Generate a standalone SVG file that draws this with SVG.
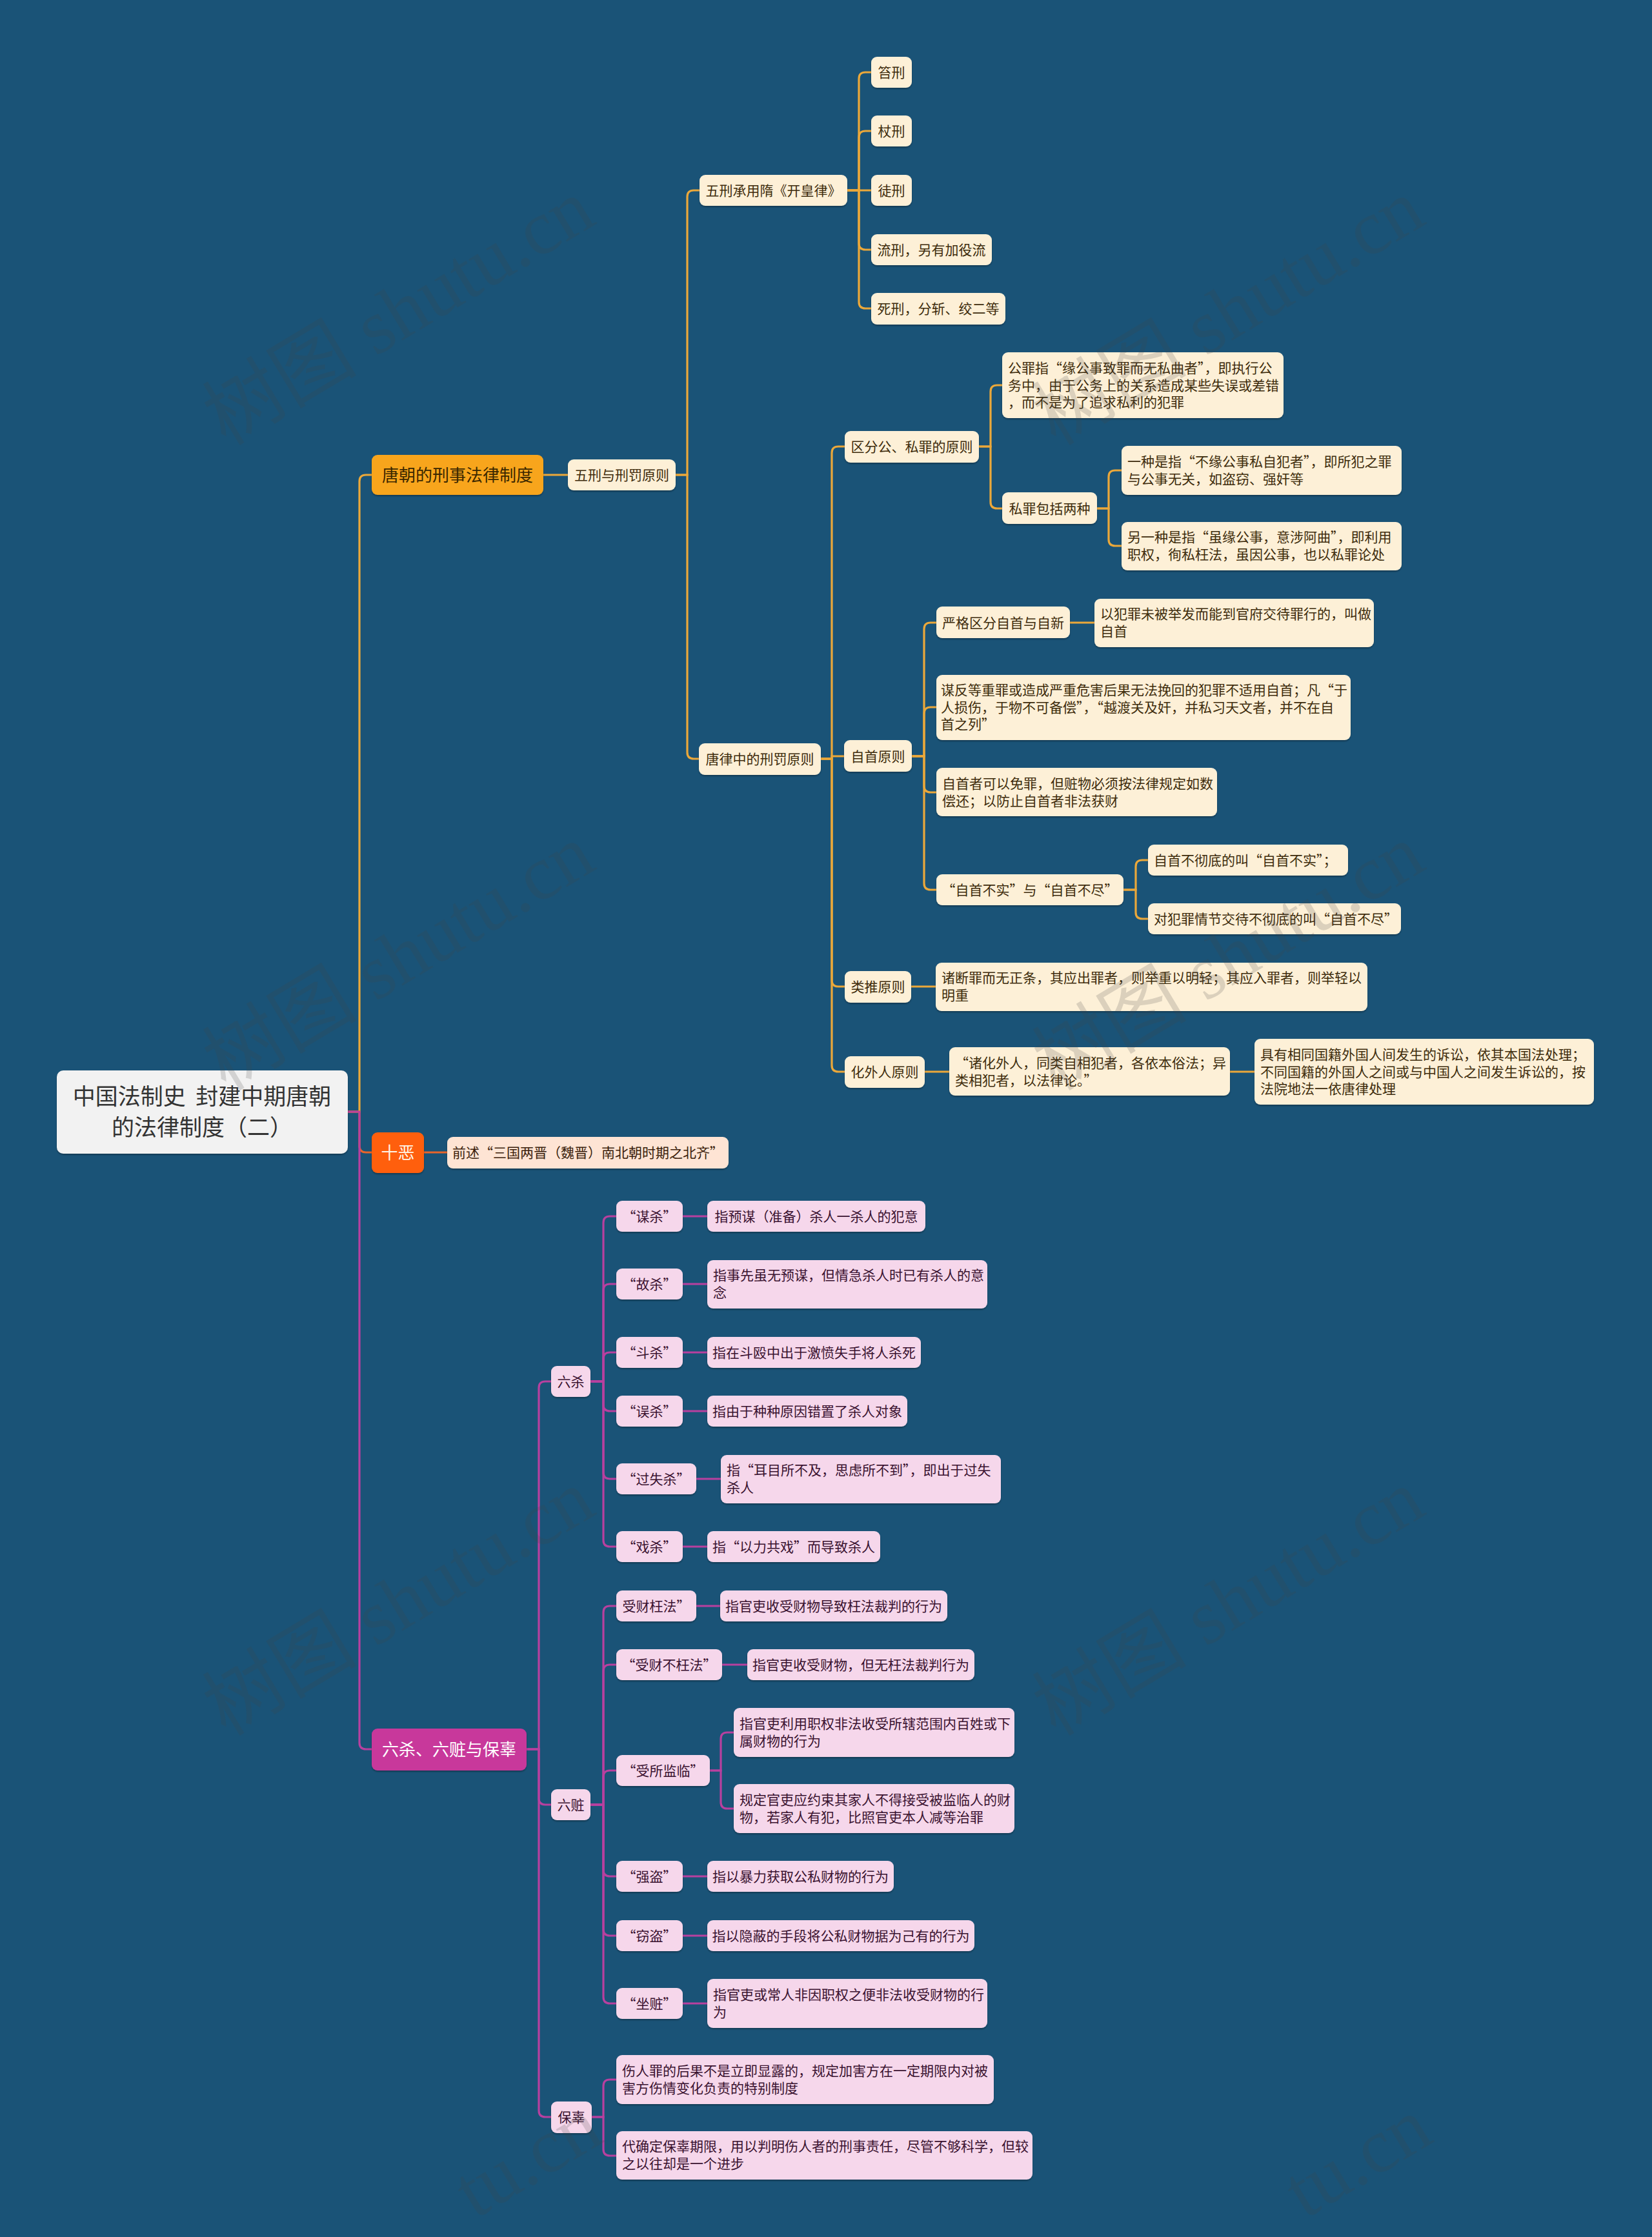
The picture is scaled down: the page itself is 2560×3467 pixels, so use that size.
<svg xmlns="http://www.w3.org/2000/svg" width="2560" height="3467" viewBox="0 0 2560 3467">
<defs>
<filter id="sh" x="-5%" y="-10%" width="110%" height="130%">
<feDropShadow dx="0" dy="2" stdDeviation="1.2" flood-color="#000" flood-opacity="0.3"/>
</filter>
<style>
text{font-family:"Noto Sans CJK SC","Noto Sans",sans-serif;}
.r{fill:#F2F2F2;filter:url(#sh);}
.rt{font-size:35px;fill:#333;text-anchor:middle;white-space:pre;}
.o1{fill:#F8A51F;filter:url(#sh);}
.o1t{font-size:26px;fill:#3A2700;text-anchor:middle;}
.oc{fill:#FDF0D7;filter:url(#sh);}
.oct{font-size:21px;fill:#3E2C0C;}
.red1{fill:#FF5E0A;filter:url(#sh);}
.red1t{font-size:26px;fill:#FFF4E6;text-anchor:middle;}
.redc{fill:#FEE4D4;filter:url(#sh);}
.redct{font-size:21px;fill:#3B1E0B;}
.m1{fill:#C8379B;filter:url(#sh);}
.m1t{font-size:26px;fill:#FFFFFF;text-anchor:middle;}
.mc{fill:#F6D7EB;filter:url(#sh);}
.mct{font-size:21px;fill:#3A1230;}
.c{text-anchor:middle;}
.lo{fill:none;stroke:#EBA83A;stroke-width:3.2;}
.lr{fill:none;stroke:#E8652A;stroke-width:3.2;}
.lm{fill:none;stroke:#B8409F;stroke-width:3.2;}
.wm{font-family:"Liberation Serif","Noto Sans CJK SC",serif;font-size:120px;fill:#444;opacity:0.18;}
</style>
</defs>
<rect x="0" y="0" width="2560" height="3467" fill="#1A5377"/>

<g id="connectors">
<path class="lo" d="M539 1723 H557 V746 Q557 736 567 736 H576"/>
<path class="lr" d="M539 1723 H557 V1776 Q557 1786 567 1786 H576"/>
<path class="lm" d="M539 1723 H557 V2701 Q557 2711 567 2711 H576"/>
<path class="lo" d="M842 736 H880"/>
<path class="lo" d="M1047 736 H1065 V305 Q1065 295 1075 295 H1084"/>
<path class="lo" d="M1047 736 H1065 V1166 Q1065 1176 1075 1176 H1083"/>
<path class="lo" d="M1313 295 H1331 V122 Q1331 112 1341 112 H1350"/>
<path class="lo" d="M1313 295 H1331 V213 Q1331 203 1341 203 H1350"/>
<path class="lo" d="M1313 295 H1350"/>
<path class="lo" d="M1313 295 H1331 V377 Q1331 387 1341 387 H1350"/>
<path class="lo" d="M1313 295 H1331 V468 Q1331 478 1341 478 H1350"/>
<path class="lo" d="M1272 1176 H1289 V702 Q1289 692 1299 692 H1309"/>
<path class="lo" d="M1272 1176 H1289 V1172 H1308"/>
<path class="lo" d="M1272 1176 H1289 V1519 Q1289 1529 1299 1529 H1309"/>
<path class="lo" d="M1272 1176 H1289 V1651 Q1289 1661 1299 1661 H1309"/>
<path class="lo" d="M1517 692 H1535 V607 Q1535 597 1545 597 H1553"/>
<path class="lo" d="M1517 692 H1535 V778 Q1535 788 1545 788 H1553"/>
<path class="lo" d="M1700 788 H1718 V739 Q1718 729 1728 729 H1738"/>
<path class="lo" d="M1700 788 H1718 V836 Q1718 846 1728 846 H1738"/>
<path class="lo" d="M1413 1172 H1432 V975 Q1432 965 1442 965 H1451"/>
<path class="lo" d="M1413 1172 H1432 V1106 Q1432 1096 1442 1096 H1451"/>
<path class="lo" d="M1413 1172 H1432 V1218 Q1432 1228 1442 1228 H1451"/>
<path class="lo" d="M1413 1172 H1432 V1369 Q1432 1379 1442 1379 H1451"/>
<path class="lo" d="M1658 965 H1696"/>
<path class="lo" d="M1741 1379 H1760 V1343 Q1760 1333 1770 1333 H1779"/>
<path class="lo" d="M1741 1379 H1760 V1414 Q1760 1424 1770 1424 H1779"/>
<path class="lo" d="M1412 1529 H1450"/>
<path class="lo" d="M1433 1661 H1471"/>
<path class="lo" d="M1906 1661 H1944"/>
<path class="lr" d="M657 1786 H693"/>
<path class="lm" d="M816 2711 H835 V2151 Q835 2141 845 2141 H854"/>
<path class="lm" d="M816 2711 H835 V2787 Q835 2797 845 2797 H854"/>
<path class="lm" d="M816 2711 H835 V3271 Q835 3281 845 3281 H854"/>
<path class="lm" d="M915 2141 H935 V1895 Q935 1885 945 1885 H955"/>
<path class="lm" d="M915 2141 H935 V2000 Q935 1990 945 1990 H955"/>
<path class="lm" d="M915 2141 H935 V2106 Q935 2096 945 2096 H955"/>
<path class="lm" d="M915 2141 H935 V2177 Q935 2187 945 2187 H955"/>
<path class="lm" d="M915 2141 H935 V2282 Q935 2292 945 2292 H955"/>
<path class="lm" d="M915 2141 H935 V2387 Q935 2397 945 2397 H955"/>
<path class="lm" d="M1058 1885 H1096"/>
<path class="lm" d="M1058 1990 H1096"/>
<path class="lm" d="M1058 2096 H1096"/>
<path class="lm" d="M1058 2187 H1096"/>
<path class="lm" d="M1079 2292 H1117"/>
<path class="lm" d="M1058 2397 H1096"/>
<path class="lm" d="M915 2797 H935 V2499 Q935 2489 945 2489 H955"/>
<path class="lm" d="M915 2797 H935 V2590 Q935 2580 945 2580 H955"/>
<path class="lm" d="M915 2797 H935 V2754 Q935 2744 945 2744 H955"/>
<path class="lm" d="M915 2797 H935 V2898 Q935 2908 945 2908 H955"/>
<path class="lm" d="M915 2797 H935 V2990 Q935 3000 945 3000 H955"/>
<path class="lm" d="M915 2797 H935 V3095 Q935 3105 945 3105 H955"/>
<path class="lm" d="M1079 2489 H1116"/>
<path class="lm" d="M1119 2580 H1158"/>
<path class="lm" d="M1100 2744 H1117 V2695 Q1117 2685 1127 2685 H1137"/>
<path class="lm" d="M1100 2744 H1117 V2793 Q1117 2803 1127 2803 H1137"/>
<path class="lm" d="M1058 2908 H1096"/>
<path class="lm" d="M1058 3000 H1096"/>
<path class="lm" d="M1058 3105 H1096"/>
<path class="lm" d="M917 3281 H935 V3233 Q935 3223 945 3223 H955"/>
<path class="lm" d="M917 3281 H935 V3331 Q935 3341 945 3341 H955"/>
</g>

<g id="root">
<rect class="r" x="88" y="1659" width="451" height="129" rx="10"/>
<text class="rt" x="313" y="1712">中国法制史  封建中期唐朝</text>
<text class="rt" x="313" y="1760">的法律制度（二）</text>
</g>

<g id="n-tang">
<rect class="o1" x="576" y="705" width="266" height="62" rx="9"/>
<text class="o1t" x="709" y="746">唐朝的刑事法律制度</text>
</g>
<g id="n-wuxingyu">
<rect class="oc" x="880" y="712" width="167" height="48" rx="9"/>
<text class="oct c" x="963.5" y="744">五刑与刑罚原则</text>
</g>
<g id="n-wuxingcheng">
<rect class="oc" x="1084" y="271" width="229" height="48" rx="9"/>
<text class="oct c" x="1198.5" y="303">五刑承用隋《开皇律》</text>
</g>
<g id="n-chi">
<rect class="oc" x="1350" y="88" width="63" height="48" rx="9"/>
<text class="oct c" x="1381.5" y="120">笞刑</text>
</g>
<g id="n-zhang">
<rect class="oc" x="1350" y="179" width="63" height="48" rx="9"/>
<text class="oct c" x="1381.5" y="211">杖刑</text>
</g>
<g id="n-tu">
<rect class="oc" x="1350" y="271" width="63" height="48" rx="9"/>
<text class="oct c" x="1381.5" y="303">徒刑</text>
</g>
<g id="n-liu">
<rect class="oc" x="1350" y="363" width="187" height="48" rx="9"/>
<text class="oct c" x="1443.5" y="395">流刑，另有加役流</text>
</g>
<g id="n-si">
<rect class="oc" x="1350" y="454" width="208" height="49" rx="9"/>
<text class="oct c" x="1454" y="486">死刑，分斩、绞二等</text>
</g>
<g id="n-tanglv">
<rect class="oc" x="1083" y="1152" width="189" height="49" rx="9"/>
<text class="oct c" x="1177.5" y="1184">唐律中的刑罚原则</text>
</g>
<g id="n-qufen">
<rect class="oc" x="1309" y="668" width="208" height="49" rx="9"/>
<text class="oct c" x="1413" y="700">区分公、私罪的原则</text>
</g>
<g id="n-gongzui">
<rect class="oc" x="1553" y="546" width="436" height="102" rx="9"/>
<text class="oct" x="1562" y="578">公罪指“缘公事致罪而无私曲者”，即执行公</text>
<text class="oct" x="1562" y="604.5">务中，由于公务上的关系造成某些失误或差错</text>
<text class="oct" x="1562" y="631">，而不是为了追求私利的犯罪</text>
</g>
<g id="n-sizui">
<rect class="oc" x="1553" y="763" width="147" height="49" rx="9"/>
<text class="oct c" x="1626.5" y="796">私罪包括两种</text>
</g>
<g id="n-yizhong">
<rect class="oc" x="1738" y="691" width="434" height="76" rx="9"/>
<text class="oct" x="1747" y="723">一种是指“不缘公事私自犯者”，即所犯之罪</text>
<text class="oct" x="1747" y="750">与公事无关，如盗窃、强奸等</text>
</g>
<g id="n-lingyizhong">
<rect class="oc" x="1738" y="809" width="434" height="75" rx="9"/>
<text class="oct" x="1747" y="840">另一种是指“虽缘公事，意涉阿曲”，即利用</text>
<text class="oct" x="1747" y="867">职权，徇私枉法，虽因公事，也以私罪论处</text>
</g>
<g id="n-zishou">
<rect class="oc" x="1308" y="1147" width="105" height="49" rx="9"/>
<text class="oct c" x="1360.5" y="1180">自首原则</text>
</g>
<g id="n-yange">
<rect class="oc" x="1451" y="940" width="207" height="49" rx="9"/>
<text class="oct c" x="1554.5" y="973">严格区分自首与自新</text>
</g>
<g id="n-yifanzui">
<rect class="oc" x="1696" y="928" width="433" height="75" rx="9"/>
<text class="oct" x="1705" y="959">以犯罪未被举发而能到官府交待罪行的，叫做</text>
<text class="oct" x="1705" y="986">自首</text>
</g>
<g id="n-moufan">
<rect class="oc" x="1451" y="1046" width="642" height="101" rx="9"/>
<text class="oct" x="1458" y="1077">谋反等重罪或造成严重危害后果无法挽回的犯罪不适用自首；凡“于</text>
<text class="oct" x="1458" y="1103.5">人损伤，于物不可备偿”，“越渡关及奸，并私习天文者，并不在自</text>
<text class="oct" x="1458" y="1130">首之列”</text>
</g>
<g id="n-zishouzhe">
<rect class="oc" x="1451" y="1190" width="435" height="75" rx="9"/>
<text class="oct" x="1460" y="1222">自首者可以免罪，但赃物必须按法律规定如数</text>
<text class="oct" x="1460" y="1249">偿还；以防止自首者非法获财</text>
</g>
<g id="n-bushi">
<rect class="oc" x="1451" y="1355" width="290" height="48" rx="9"/>
<text class="oct c" x="1596" y="1387">“自首不实”与“自首不尽”</text>
</g>
<g id="n-bushi1">
<rect class="oc" x="1779" y="1309" width="310" height="48" rx="9"/>
<text class="oct" x="1788" y="1341">自首不彻底的叫“自首不实”；</text>
</g>
<g id="n-bujin">
<rect class="oc" x="1779" y="1400" width="392" height="48" rx="9"/>
<text class="oct" x="1788" y="1432">对犯罪情节交待不彻底的叫“自首不尽”</text>
</g>
<g id="n-leitui">
<rect class="oc" x="1309" y="1505" width="103" height="49" rx="9"/>
<text class="oct c" x="1360.5" y="1537">类推原则</text>
</g>
<g id="n-zhuduan">
<rect class="oc" x="1450" y="1492" width="669" height="75" rx="9"/>
<text class="oct" x="1459" y="1523">诸断罪而无正条，其应出罪者，则举重以明轻；其应入罪者，则举轻以</text>
<text class="oct" x="1459" y="1550">明重</text>
</g>
<g id="n-huawai">
<rect class="oc" x="1309" y="1637" width="124" height="49" rx="9"/>
<text class="oct c" x="1371" y="1669">化外人原则</text>
</g>
<g id="n-zhuhuawai">
<rect class="oc" x="1471" y="1623" width="435" height="75" rx="9"/>
<text class="oct" x="1480" y="1655">“诸化外人，同类自相犯者，各依本俗法；异</text>
<text class="oct" x="1480" y="1682">类相犯者，以法律论。”</text>
</g>
<g id="n-juyou">
<rect class="oc" x="1944" y="1610" width="526" height="102" rx="9"/>
<text class="oct" x="1953" y="1642">具有相同国籍外国人间发生的诉讼，依其本国法处理；</text>
<text class="oct" x="1953" y="1668.5">不同国籍的外国人之间或与中国人之间发生诉讼的，按</text>
<text class="oct" x="1953" y="1695">法院地法一依唐律处理</text>
</g>

<g id="n-shie">
<rect class="red1" x="576" y="1755" width="81" height="63" rx="9"/>
<text class="red1t" x="616.5" y="1796">十恶</text>
</g>
<g id="n-qianshu">
<rect class="redc" x="693" y="1762" width="436" height="49" rx="9"/>
<text class="redct c" x="911" y="1794">前述“三国两晋（魏晋）南北朝时期之北齐”</text>
</g>

<g id="n-liusha-main">
<rect class="m1" x="576" y="2679" width="240" height="65" rx="9"/>
<text class="m1t" x="696" y="2721">六杀、六赃与保辜</text>
</g>
<g id="n-liusha">
<rect class="mc" x="854" y="2117" width="61" height="48" rx="9"/>
<text class="mct c" x="884.5" y="2149">六杀</text>
</g>
<g id="n-mousha">
<rect class="mc" x="955" y="1861" width="103" height="48" rx="9"/>
<text class="mct c" x="1006.5" y="1893">“谋杀”</text>
</g>
<g id="n-mousha-d">
<rect class="mc" x="1096" y="1861" width="338" height="48" rx="9"/>
<text class="mct c" x="1265" y="1893">指预谋（准备）杀人一杀人的犯意</text>
</g>
<g id="n-gusha">
<rect class="mc" x="955" y="1966" width="103" height="48" rx="9"/>
<text class="mct c" x="1006.5" y="1998">“故杀”</text>
</g>
<g id="n-gusha-d">
<rect class="mc" x="1096" y="1953" width="434" height="75" rx="9"/>
<text class="mct" x="1105" y="1984">指事先虽无预谋，但情急杀人时已有杀人的意</text>
<text class="mct" x="1105" y="2011">念</text>
</g>
<g id="n-dousha">
<rect class="mc" x="955" y="2072" width="103" height="48" rx="9"/>
<text class="mct c" x="1006.5" y="2104">“斗杀”</text>
</g>
<g id="n-dousha-d">
<rect class="mc" x="1096" y="2072" width="331" height="48" rx="9"/>
<text class="mct c" x="1261.5" y="2104">指在斗殴中出于激愤失手将人杀死</text>
</g>
<g id="n-wusha">
<rect class="mc" x="955" y="2163" width="103" height="48" rx="9"/>
<text class="mct c" x="1006.5" y="2195">“误杀”</text>
</g>
<g id="n-wusha-d">
<rect class="mc" x="1096" y="2163" width="310" height="48" rx="9"/>
<text class="mct c" x="1251" y="2195">指由于种种原因错置了杀人对象</text>
</g>
<g id="n-guoshi">
<rect class="mc" x="955" y="2268" width="124" height="48" rx="9"/>
<text class="mct c" x="1017" y="2300">“过失杀”</text>
</g>
<g id="n-guoshi-d">
<rect class="mc" x="1117" y="2255" width="434" height="75" rx="9"/>
<text class="mct" x="1126" y="2286">指“耳目所不及，思虑所不到”，即出于过失</text>
<text class="mct" x="1126" y="2313">杀人</text>
</g>
<g id="n-xisha">
<rect class="mc" x="955" y="2373" width="103" height="48" rx="9"/>
<text class="mct c" x="1006.5" y="2405">“戏杀”</text>
</g>
<g id="n-xisha-d">
<rect class="mc" x="1096" y="2373" width="268" height="48" rx="9"/>
<text class="mct c" x="1230" y="2405">指“以力共戏”而导致杀人</text>
</g>

<g id="n-liuzang">
<rect class="mc" x="854" y="2773" width="61" height="48" rx="9"/>
<text class="mct c" x="884.5" y="2805">六赃</text>
</g>
<g id="n-shoucai">
<rect class="mc" x="955" y="2465" width="124" height="48" rx="9"/>
<text class="mct c" x="1017" y="2497">受财枉法”</text>
</g>
<g id="n-shoucai-d">
<rect class="mc" x="1116" y="2465" width="352" height="48" rx="9"/>
<text class="mct c" x="1292" y="2497">指官吏收受财物导致枉法裁判的行为</text>
</g>
<g id="n-buwang">
<rect class="mc" x="955" y="2556" width="164" height="48" rx="9"/>
<text class="mct c" x="1037" y="2588">“受财不枉法”</text>
</g>
<g id="n-buwang-d">
<rect class="mc" x="1158" y="2556" width="352" height="48" rx="9"/>
<text class="mct c" x="1334" y="2588">指官吏收受财物，但无枉法裁判行为</text>
</g>
<g id="n-jianlin">
<rect class="mc" x="955" y="2720" width="145" height="48" rx="9"/>
<text class="mct c" x="1027.5" y="2752">“受所监临”</text>
</g>
<g id="n-jianlin-d1">
<rect class="mc" x="1137" y="2647" width="435" height="76" rx="9"/>
<text class="mct" x="1146" y="2679">指官吏利用职权非法收受所辖范围内百姓或下</text>
<text class="mct" x="1146" y="2706">属财物的行为</text>
</g>
<g id="n-jianlin-d2">
<rect class="mc" x="1137" y="2765" width="435" height="76" rx="9"/>
<text class="mct" x="1146" y="2797">规定官吏应约束其家人不得接受被监临人的财</text>
<text class="mct" x="1146" y="2824">物，若家人有犯，比照官吏本人减等治罪</text>
</g>
<g id="n-qiangdao">
<rect class="mc" x="955" y="2884" width="103" height="48" rx="9"/>
<text class="mct c" x="1006.5" y="2916">“强盗”</text>
</g>
<g id="n-qiangdao-d">
<rect class="mc" x="1096" y="2884" width="289" height="48" rx="9"/>
<text class="mct c" x="1240.5" y="2916">指以暴力获取公私财物的行为</text>
</g>
<g id="n-qiedao">
<rect class="mc" x="955" y="2976" width="103" height="48" rx="9"/>
<text class="mct c" x="1006.5" y="3008">“窃盗”</text>
</g>
<g id="n-qiedao-d">
<rect class="mc" x="1096" y="2976" width="414" height="48" rx="9"/>
<text class="mct c" x="1303" y="3008">指以隐蔽的手段将公私财物据为己有的行为</text>
</g>
<g id="n-zuozang">
<rect class="mc" x="955" y="3081" width="103" height="48" rx="9"/>
<text class="mct c" x="1006.5" y="3113">“坐赃”</text>
</g>
<g id="n-zuozang-d">
<rect class="mc" x="1096" y="3067" width="434" height="76" rx="9"/>
<text class="mct" x="1105" y="3099">指官吏或常人非因职权之便非法收受财物的行</text>
<text class="mct" x="1105" y="3126">为</text>
</g>

<g id="n-baogu">
<rect class="mc" x="854" y="3257" width="63" height="49" rx="9"/>
<text class="mct c" x="885.5" y="3289">保辜</text>
</g>
<g id="n-baogu-d1">
<rect class="mc" x="955" y="3185" width="585" height="76" rx="9"/>
<text class="mct" x="964" y="3217">伤人罪的后果不是立即显露的，规定加害方在一定期限内对被</text>
<text class="mct" x="964" y="3244">害方伤情变化负责的特别制度</text>
</g>
<g id="n-baogu-d2">
<rect class="mc" x="955" y="3303" width="645" height="75" rx="9"/>
<text class="mct" x="964" y="3334">代确定保辜期限，用以判明伤人者的刑事责任，尽管不够科学，但较</text>
<text class="mct" x="964" y="3361">之以往却是一个进步</text>
</g>

<g id="watermarks">
<text class="wm" transform="translate(350 692) rotate(-31)">树图 shutu.cn</text>
<text class="wm" transform="translate(1636 692) rotate(-31)">树图 shutu.cn</text>
<text class="wm" transform="translate(350 1692) rotate(-31)">树图 shutu.cn</text>
<text class="wm" transform="translate(1636 1692) rotate(-31)">树图 shutu.cn</text>
<text class="wm" transform="translate(350 2692) rotate(-31)">树图 shutu.cn</text>
<text class="wm" transform="translate(1636 2692) rotate(-31)">树图 shutu.cn</text>
<text class="wm" transform="translate(736 3440) rotate(-31)">tu.cn</text>
<text class="wm" transform="translate(2022 3440) rotate(-31)">tu.cn</text>
</g>
</svg>
